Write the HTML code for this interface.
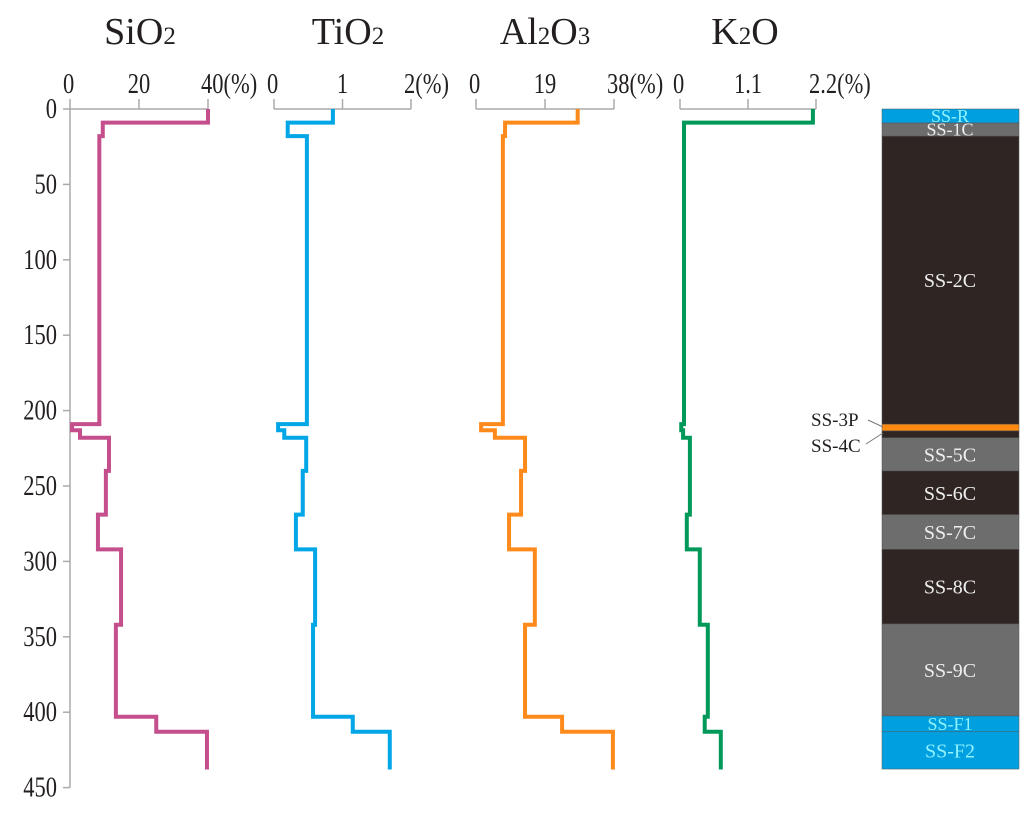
<!DOCTYPE html>
<html><head><meta charset="utf-8"><style>
body{margin:0;background:#fff;width:1024px;height:813px;overflow:hidden}
svg text{font-family:"Liberation Serif",serif;fill:#231f20}
</style></head><body>
<svg id="chart" width="1024" height="813" viewBox="0 0 1024 813" xmlns="http://www.w3.org/2000/svg"></svg>
<script>
const depthBreaks=[0,9,18,209,213,218,240,269,292,342,403,413,438];
const sio2Values=[40,9.5,8.5,0.6,2.9,11.3,10.4,8.1,14.8,13.3,25,39.7];
const tio2Values=[0.86,0.2,0.48,0.06,0.15,0.47,0.42,0.32,0.6,0.57,1.15,1.69];
const al2o3Values=[28,8,7.4,1.4,5.2,13.5,12.4,9.1,16.2,13.5,23.7,37.7];
const k2oValues=[2.15,0.065,0.065,0.02,0.05,0.16,0.16,0.11,0.32,0.45,0.4,0.66];
const depthTicks=[0,50,100,150,200,250,300,350,400,450];
const layerNames=["SS-R","SS-1C","SS-2C","SS-3P","SS-4C","SS-5C","SS-6C","SS-7C","SS-8C","SS-9C","SS-F1","SS-F2"];
const layerTops=[0,9.3,18,209,213.5,218,240,269,292,341.5,402.5,413];
const layerBottoms=[9.3,18,209,213.5,218,240,269,292,341.5,402.5,413,437.7];
const layerColors=["#00a0e0","#6d6d6d","#2f2624","#ff8a10","#2f2624","#6d6d6d","#2f2624","#6d6d6d","#2f2624","#6d6d6d","#00a0e0","#00a0e0"];

const NS="http://www.w3.org/2000/svg";
const svg=document.getElementById('chart');
const y=d=>109+d*1.508;
function mk(tag,attrs,parent){const e=document.createElementNS(NS,tag);for(const k in attrs)e.setAttribute(k,attrs[k]);(parent||svg).appendChild(e);return e;}
function tallText(parent,x,yy,anchor,size,str){
  const t=mk('text',{x:0,y:0,'text-anchor':anchor,'font-size':size,transform:`translate(${x},${yy}) scale(0.9,1.12)`},parent);
  t.textContent=str;return t;
}

const ax=mk('g',{});


mk('line',{x1:70,y1:y(0),x2:70,y2:y(450),stroke:'#aaa','stroke-width':1.5},ax);
depthTicks.forEach(t=>{
  mk('line',{x1:63,y1:y(t),x2:70,y2:y(t),stroke:'#aaa','stroke-width':1.5},ax);
  const tx=tallText(ax,57,y(t)+9,'end',25,String(t));
  
  
});

const panels=[
 {name:'sio2',title:['SiO','2',''],x0:70,x1:208,max:40,ticks:['0','20','40(%)'],vals:sio2Values,color:'#c44f8c',tx:140},
 {name:'tio2',title:['TiO','2',''],x0:274,x1:411,max:2,ticks:['0','1','2(%)'],vals:tio2Values,color:'#00a6e6',tx:348},
 {name:'al2o3',title:['Al','2','O','3'],x0:476,x1:614,max:38,ticks:['0','19','38(%)'],vals:al2o3Values,color:'#ff8a1c',tx:545},
 {name:'k2o',title:['K','2','O'],x0:680,x1:816,max:2.2,ticks:['0','1.1','2.2(%)'],vals:k2oValues,color:'#00995a',tx:745}
];
panels.forEach(p=>{
  const g=mk('g',{});
  
  
  const t=mk('text',{x:p.tx,y:44,'text-anchor':'middle','font-size':38},g);
  
  
  p.title.forEach((s,i)=>{const ts=mk('tspan',i%2?{'font-size':25}:{},t);ts.textContent=s;});
  mk('line',{x1:p.x0,y1:109,x2:p.x1,y2:109,stroke:'#aaa','stroke-width':1.5},g);
  p.ticks.forEach((lab,i)=>{
    const xx=p.x0+(p.x1-p.x0)*i/2;
    mk('line',{x1:xx,y1:99,x2:xx,y2:109,stroke:'#aaa','stroke-width':1.5},g);
    const tl=tallText(g,i===1?xx:xx-7,93,i===1?'middle':'start',25,lab);
    
    
  });
  const sx=v=>p.x0+v/p.max*(p.x1-p.x0);
  let d='';
  p.vals.forEach((v,i)=>{
    d+=(i===0?'M':'L')+sx(v)+' '+y(depthBreaks[i])+' L'+sx(v)+' '+y(depthBreaks[i+1])+' ';
  });
  const path=mk('path',{d:d,fill:'none',stroke:p.color,'stroke-width':4,'stroke-linejoin':'miter'},g);
  
  
});

const col=mk('g',{});


layerNames.forEach((n,i)=>{
  const r=mk('rect',{x:882,y:y(layerTops[i]),width:137,height:y(layerBottoms[i])-y(layerTops[i]),fill:layerColors[i],stroke:'#555','stroke-width':0.5},col);
  
  
  if(n==='SS-3P'||n==='SS-4C'){
    const ty=n==='SS-3P'?426:452;
    const tt=mk('text',{x:811,y:ty,'font-size':19},col);
    tt.textContent=n;
    
    
    mk('line',{x1:n==='SS-3P'?868:866,y1:n==='SS-3P'?420:444,x2:883,y2:n==='SS-3P'?427:433,stroke:'#777','stroke-width':1},col);
  } else {
    const mid=(y(layerTops[i])+y(layerBottoms[i]))/2;
    const small=(layerBottoms[i]-layerTops[i])<12;
    const tt=mk('text',{x:950,y:mid+(small?6:7),'text-anchor':'middle','font-size':small?18:20},col);
    tt.style.fill=(n==='SS-R'||n==='SS-F1'||n==='SS-F2')?'#8ef2ff':'#eee';
    tt.textContent=n;
    
    
  }
});
</script>
</body></html>
